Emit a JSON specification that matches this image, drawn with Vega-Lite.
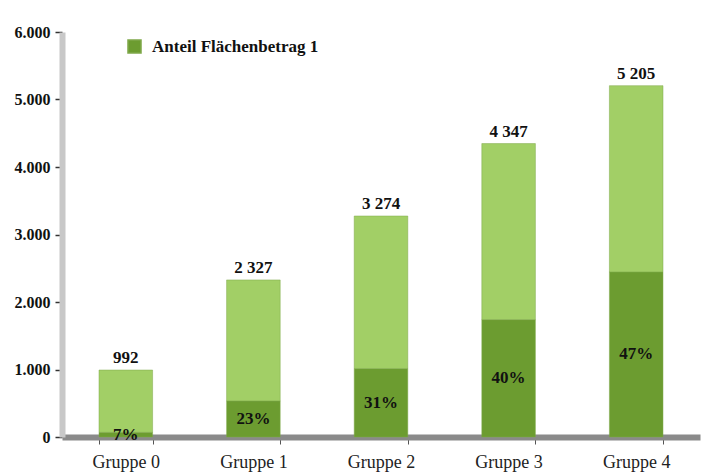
{
  "$schema": "https://vega.github.io/schema/vega-lite/v6.json",
  "autosize": "none",
  "width": 638,
  "height": 405,
  "padding": {"left": 62, "top": 32, "right": 5, "bottom": 37},
  "background": "white",
  "config": {
    "font": "Liberation Serif",
    "view": {"stroke": null}
  },
  "data": {
    "values": [
      {"gruppe": "Gruppe 0", "segment": "Anteil Flächenbetrag 1", "value": 69, "order": 1, "pct": "7%", "total": 992, "totalLabel": "992"},
      {"gruppe": "Gruppe 0", "segment": "Rest", "value": 923, "order": 2, "pct": "", "total": 992, "totalLabel": "992"},
      {"gruppe": "Gruppe 1", "segment": "Anteil Flächenbetrag 1", "value": 535, "order": 1, "pct": "23%", "total": 2327, "totalLabel": "2 327"},
      {"gruppe": "Gruppe 1", "segment": "Rest", "value": 1792, "order": 2, "pct": "", "total": 2327, "totalLabel": "2 327"},
      {"gruppe": "Gruppe 2", "segment": "Anteil Flächenbetrag 1", "value": 1015, "order": 1, "pct": "31%", "total": 3274, "totalLabel": "3 274"},
      {"gruppe": "Gruppe 2", "segment": "Rest", "value": 2259, "order": 2, "pct": "", "total": 3274, "totalLabel": "3 274"},
      {"gruppe": "Gruppe 3", "segment": "Anteil Flächenbetrag 1", "value": 1739, "order": 1, "pct": "40%", "total": 4347, "totalLabel": "4 347"},
      {"gruppe": "Gruppe 3", "segment": "Rest", "value": 2608, "order": 2, "pct": "", "total": 4347, "totalLabel": "4 347"},
      {"gruppe": "Gruppe 4", "segment": "Anteil Flächenbetrag 1", "value": 2446, "order": 1, "pct": "47%", "total": 5205, "totalLabel": "5 205"},
      {"gruppe": "Gruppe 4", "segment": "Rest", "value": 2759, "order": 2, "pct": "", "total": 5205, "totalLabel": "5 205"}
    ]
  },
  "resolve": {"scale": {"y": "independent"}},
  "encoding": {
    "x": {
      "field": "gruppe",
      "type": "nominal",
      "scale": {"paddingInner": 0.58, "paddingOuter": 0.29},
      "axis": {
        "title": null,
        "labelAngle": 0,
        "labelFont": "Liberation Serif",
        "labelFontSize": 18,
        "labelColor": "#222",
        "labelPadding": 9,
        "domainColor": "#8a8a8a",
        "domainWidth": 6,
        "tickColor": "#555",
        "tickSize": 7,
        "tickBand": "extent",
        "ticks": true
      }
    }
  },
  "layer": [
    {
      "mark": {"type": "bar", "stroke": "#7fa84a", "strokeWidth": 0.5},
      "encoding": {
        "y": {
          "field": "value",
          "type": "quantitative",
          "stack": "zero",
          "scale": {"domain": [0, 6000]},
          "axis": {
            "title": null,
            "values": [0, 1000, 2000, 3000, 4000, 5000, 6000],
            "labelExpr": "replace(format(datum.value, ','), ',', '.')",
            "labelFont": "Liberation Serif",
            "labelFontSize": 16,
            "labelFontWeight": "bold",
            "labelColor": "#111",
            "labelPadding": 5,
            "domainColor": "#c8c8c8",
            "domainWidth": 6,
            "tickColor": "#333",
            "tickSize": 7,
            "tickWidth": 1.5,
            "grid": false
          }
        },
        "color": {
          "field": "segment",
          "type": "nominal",
          "scale": {"domain": ["Anteil Flächenbetrag 1", "Rest"], "range": ["#6c9c30", "#a2cf66"]},
          "legend": {
            "values": ["Anteil Flächenbetrag 1"],
            "title": null,
            "orient": "none",
            "legendX": 64,
            "legendY": 6,
            "symbolType": "square",
            "symbolSize": 170,
            "symbolFillColor": "#79ab3c",
            "labelFont": "Liberation Serif",
            "labelFontSize": 17,
            "labelFontWeight": "bold",
            "labelColor": "#111",
            "labelOffset": 9,
            "labelLimit": 400
          }
        },
        "order": {"field": "order", "type": "quantitative"}
      }
    },
    {
      "transform": [{"filter": "datum.order == 1"}],
      "mark": {"type": "text", "font": "Liberation Serif", "fontSize": 17, "fontWeight": "bold", "color": "#111", "baseline": "middle"},
      "encoding": {
        "y": {"field": "value", "type": "quantitative", "scale": {"domain": [0, 12000]}, "axis": null},
        "text": {"field": "pct"}
      }
    },
    {
      "transform": [{"filter": "datum.order == 2"}],
      "mark": {"type": "text", "font": "Liberation Serif", "fontSize": 17, "fontWeight": "bold", "color": "#111", "baseline": "bottom", "dy": -3},
      "encoding": {
        "y": {"field": "total", "type": "quantitative", "scale": {"domain": [0, 6000]}, "axis": null},
        "text": {"field": "totalLabel"}
      }
    }
  ]
}
